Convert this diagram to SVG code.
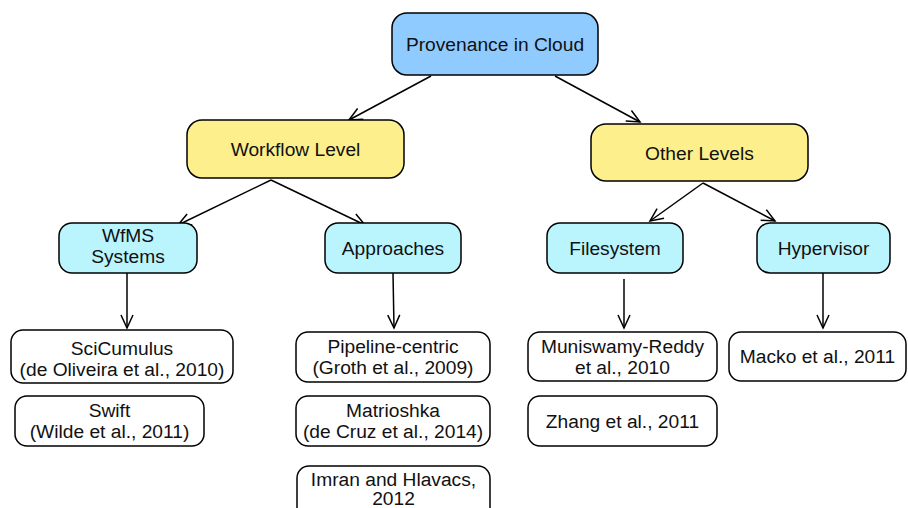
<svg xmlns="http://www.w3.org/2000/svg" width="908" height="508" viewBox="0 0 908 508">
  <defs>
    <marker id="arrow" markerUnits="userSpaceOnUse" markerWidth="16" markerHeight="14" refX="13" refY="6" orient="auto" overflow="visible">
      <path d="M0,0 L13,6 L0,12" fill="none" stroke="#000" stroke-width="1.5"/>
    </marker>
  </defs>
  <style>
    .box { stroke: #000; stroke-width: 1.5; }
    .root { fill: #8fcbff; }
    .level { fill: #fdef8c; }
    .cat { fill: #baf5fe; }
    .leaf { fill: #fff; }
    text { font-family: "Liberation Sans", Arial, Helvetica, sans-serif; font-size: 19.2px; fill: #111; text-anchor: middle; }
    .edge { stroke: #000; stroke-width: 1.5; fill: none; marker-end: url(#arrow); }
  </style>
  <rect width="908" height="508" fill="#fff"/>

  <g id="connectors">
    <line class="edge" x1="431" y1="76" x2="349" y2="120"/>
    <line class="edge" x1="555" y1="76" x2="640" y2="122"/>
    <line class="edge" x1="271" y1="180" x2="178" y2="225"/>
    <line class="edge" x1="271" y1="180" x2="365" y2="225"/>
    <line class="edge" x1="703" y1="183" x2="650" y2="221"/>
    <line class="edge" x1="703" y1="183" x2="775" y2="221"/>
    <line class="edge" x1="127" y1="273" x2="127" y2="328"/>
    <line class="edge" x1="393" y1="273" x2="394" y2="328"/>
    <line class="edge" x1="624" y1="279" x2="624" y2="328"/>
    <line class="edge" x1="823" y1="273" x2="823" y2="328"/>
  </g>

  <g id="provenance-in-cloud">
    <rect class="box root" x="392" y="13" width="206" height="62" rx="15"/>
    <text x="495" y="51">Provenance in Cloud</text>
  </g>

  <g id="workflow-level">
    <rect class="box level" x="187" y="120" width="217" height="58" rx="15"/>
    <text x="295.5" y="156">Workflow Level</text>
  </g>

  <g id="other-levels">
    <rect class="box level" x="591" y="124" width="217" height="57" rx="15"/>
    <text x="699.5" y="159.5">Other Levels</text>
  </g>

  <g id="wfms-systems">
    <rect class="box cat" x="59" y="223" width="138" height="50" rx="13"/>
    <text x="128" y="242">WfMS</text>
    <text x="128" y="263">Systems</text>
  </g>

  <g id="approaches">
    <rect class="box cat" x="325" y="223" width="136" height="50" rx="13"/>
    <text x="393" y="255">Approaches</text>
  </g>

  <g id="filesystem">
    <rect class="box cat" x="547" y="223" width="136" height="50" rx="13"/>
    <text x="615" y="255">Filesystem</text>
  </g>

  <g id="hypervisor">
    <rect class="box cat" x="757" y="223" width="133" height="50" rx="13"/>
    <text x="823.5" y="255">Hypervisor</text>
  </g>

  <g id="scicumulus">
    <rect class="box leaf" x="11" y="330" width="222" height="53" rx="12"/>
    <text x="122" y="355">SciCumulus</text>
    <text x="122" y="376">(de Oliveira et al., 2010)</text>
  </g>

  <g id="swift">
    <rect class="box leaf" x="15" y="396" width="189" height="50" rx="12"/>
    <text x="109.5" y="417">Swift</text>
    <text x="109.5" y="438">(Wilde et al., 2011)</text>
  </g>

  <g id="pipeline-centric">
    <rect class="box leaf" x="296" y="332" width="194" height="50" rx="12"/>
    <text x="393" y="353">Pipeline-centric</text>
    <text x="393" y="374">(Groth et al., 2009)</text>
  </g>

  <g id="matrioshka">
    <rect class="box leaf" x="296" y="396" width="194" height="50" rx="12"/>
    <text x="393" y="417">Matrioshka</text>
    <text x="393" y="438">(de Cruz et al., 2014)</text>
  </g>

  <g id="imran-hlavacs">
    <rect class="box leaf" x="297" y="466" width="193" height="56" rx="12"/>
    <text x="393.5" y="486">Imran and Hlavacs,</text>
    <text x="393.5" y="505">2012</text>
  </g>

  <g id="muniswamy-reddy">
    <rect class="box leaf" x="528" y="332" width="189" height="49" rx="12"/>
    <text x="622.5" y="353">Muniswamy-Reddy</text>
    <text x="622.5" y="374">et al., 2010</text>
  </g>

  <g id="zhang">
    <rect class="box leaf" x="528" y="396" width="189" height="50" rx="12"/>
    <text x="622.5" y="428">Zhang et al., 2011</text>
  </g>

  <g id="macko">
    <rect class="box leaf" x="729" y="332" width="177" height="49" rx="12"/>
    <text x="817.5" y="363">Macko et al., 2011</text>
  </g>
</svg>
